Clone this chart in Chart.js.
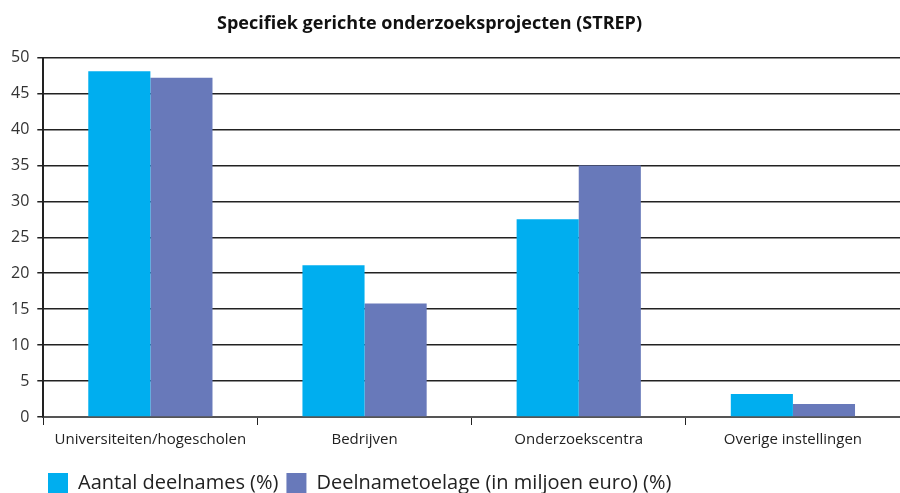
<!DOCTYPE html>
<html>
<head>
<meta charset="utf-8">
<script src="https://cdn.jsdelivr.net/npm/chart.js@4"></script>
<style>
  html, body { margin: 0; padding: 0; background: #fff; }
  #chart { display: block; }
</style>
</head>
<body>
<canvas id="chart" width="900" height="493"></canvas>
<script>
const categories = ['Universiteiten/hogescholen', 'Bedrijven', 'Onderzoekscentra', 'Overige instellingen'];
const deelnames = [48.1, 21.1, 27.5, 3.2];
const toelage = [47.2, 15.8, 35.0, 1.8];

const font = '"Open Sans", "Noto Sans", sans-serif';

// nudge title and legend to where the original puts them
const placeBlocks = {
  id: 'placeBlocks',
  afterLayout(chart) {
    const t = chart.titleBlock;
    t.left -= 22; t.right -= 22;
    const l = chart.legend;
    const h = l.bottom - l.top;
    l.left += 37; l.right += 37;
    l.top = 465; l.bottom = 465 + h;
  },
};

const chart = new Chart(document.getElementById('chart'), {
  type: 'bar',
  data: {
    labels: categories,
    datasets: [{
      label: 'Aantal deelnames (%)',
      data: deelnames,
      backgroundColor: '#00AEEF',
    }, {
      label: 'Deelnametoelage (in miljoen euro) (%)',
      data: toelage,
      backgroundColor: '#6879BA',
    }],
  },
  options: {
    responsive: false,
    animation: false,
    layout: { padding: { left: 3, right: 0, top: 0, bottom: 0 } },
    datasets: {
      bar: { categoryPercentage: 0.58, barPercentage: 1.0 },
    },
    scales: {
      x: {
        grid: { display: true, drawOnChartArea: false, offset: true, color: '#222', tickLength: 8, lineWidth: 1 },
        border: { color: '#555', width: 2 },
        ticks: { color: '#222', font: { family: font, size: 15 }, padding: 6, maxRotation: 0 },
      },
      y: {
        min: 0,
        max: 50,
        ticks: { stepSize: 5, color: '#333', font: { family: font, size: 16 }, padding: 8 },
        grid: { color: '#222', lineWidth: 1.5, tickLength: 6 },
        border: { color: '#222', width: 2 },
      },
    },
    plugins: {
      title: {
        display: true,
        text: 'Specifiek gerichte onderzoeksprojecten (STREP)',
        color: '#111',
        font: { family: font, size: 18, weight: 'bold' },
        padding: { top: 13, bottom: 23 },
      },
      legend: {
        position: 'bottom',
        align: 'start',
        labels: {
          color: '#222',
          boxWidth: 20,
          boxHeight: 20,
          padding: 8,
          font: { family: font, size: 20 },
        },
      },
      tooltip: { enabled: false },
    },
  },
  plugins: [placeBlocks],
});
</script>
</body>
</html>
